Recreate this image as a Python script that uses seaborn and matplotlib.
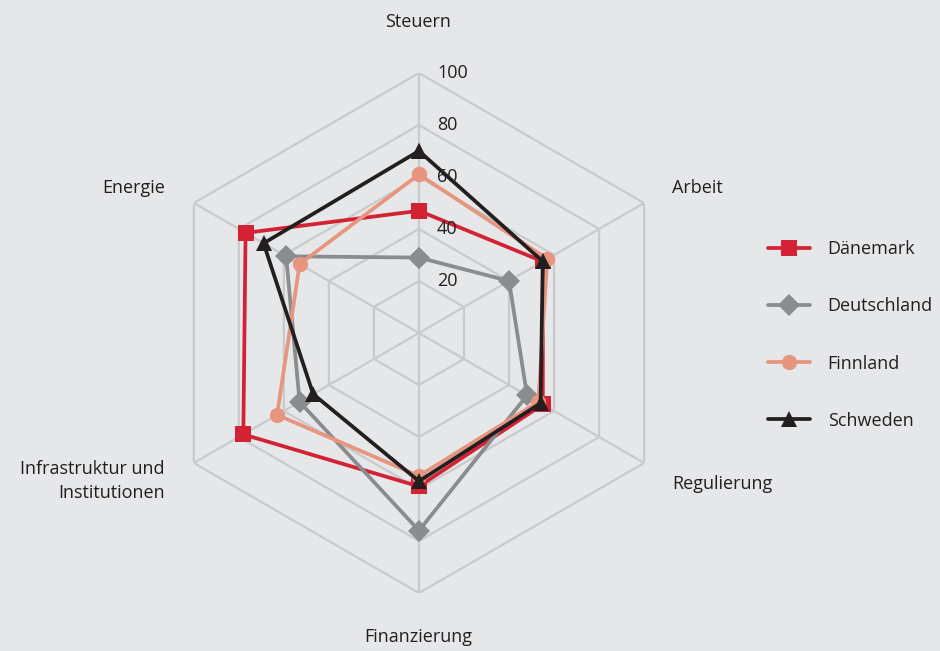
import numpy as np
import pandas as pd
import matplotlib
matplotlib.use("Agg")
import matplotlib.pyplot as plt
import matplotlib.transforms as mtransforms
import seaborn as sns

categories = ["Steuern", "Arbeit", "Regulierung", "Finanzierung",
              "Infrastruktur und\nInstitutionen", "Energie"]
countries = ["Dänemark", "Deutschland", "Finnland", "Schweden"]

daenemark = [47, 55, 55, 59, 78, 77]
deutschland = [29, 40, 48, 76, 53, 59]
finnland = [61, 57, 53, 55, 63, 53]
schweden = [70, 55, 54, 57, 47, 69]

ring_values = [20, 40, 60, 80, 100]

colors = {"Dänemark": "#d42235", "Deutschland": "#8b8c8e",
          "Finnland": "#e8957f", "Schweden": "#231f20"}
markers = {"Dänemark": "s", "Deutschland": "D", "Finnland": "o", "Schweden": "^"}

BG = "#e6e7e9"
GRID = "#c9cacc"
TXT = "#231f20"
FS = 13

# ---- long table, each polygon closed by repeating the first point ----
n = len(categories)
angles = np.linspace(0, 2 * np.pi, n, endpoint=False)
rows = []
for name, vals in zip(countries, [daenemark, deutschland, finnland, schweden]):
    for i in list(range(n)) + [0]:
        rows.append({"land": name, "theta": angles[i], "wert": vals[i]})
df = pd.DataFrame(rows)

sns.set_style("white")
plt.rcParams["font.family"] = ["Open Sans", "DejaVu Sans"]

fig = plt.figure(figsize=(9.4, 6.51), dpi=100, facecolor=BG)
ax = fig.add_axes([0.1691, 0.0891, 0.5532, 0.7988], projection="polar")
ax.set_theta_offset(np.pi / 2)
ax.set_theta_direction(-1)
ax.set_ylim(0, 100)
ax.patch.set_visible(False)
ax.spines["polar"].set_visible(False)
ax.grid(False)
ax.set_xticks([])
ax.set_yticks([])

# hexagonal grid
for r in ring_values:
    th = np.append(angles, angles[0])
    ax.plot(th, [r] * len(th), color=GRID, lw=1.6, zorder=1)
for a in angles:
    ax.plot([a, a], [0, 100], color=GRID, lw=1.6, zorder=1)

sns.lineplot(data=df, x="theta", y="wert", hue="land", style="land",
             hue_order=countries, style_order=countries,
             palette=colors, markers=markers, dashes=False, sort=False,
             estimator=None, lw=2.7, markersize=11, markeredgewidth=0,
             ax=ax, zorder=3)

# radial tick labels
off = mtransforms.offset_copy(ax.transData, fig=fig, x=18, y=0, units="dots")
for r in ring_values:
    ax.text(0, r, str(r), transform=off, ha="left", va="center",
            fontsize=FS, color=TXT, zorder=4)

# category labels (figure pixel positions)
W, H = 940, 651
lab_pos = {
    "Steuern": (418, 22, "center"),
    "Arbeit": (672, 188, "left"),
    "Regulierung": (672, 484, "left"),
    "Finanzierung": (418, 637, "center"),
    "Infrastruktur und\nInstitutionen": (165, 481, "right"),
    "Energie": (165, 188, "right"),
}
for cat in categories:
    x, y, ha = lab_pos[cat]
    fig.text(x / W, 1 - y / H, cat, ha=ha, va="center", fontsize=FS,
             color=TXT, linespacing=1.5, multialignment="right")

handles, labels = ax.get_legend_handles_labels()
ax.legend(handles, labels, loc="center left",
          bbox_to_anchor=(768 / W, 1 - 335 / H), bbox_transform=fig.transFigure,
          frameon=False, fontsize=FS, handlelength=2.3, handletextpad=1.0,
          labelspacing=2.17, labelcolor=TXT, borderaxespad=0, borderpad=0)

fig.savefig("out.png", dpi=100, facecolor=BG)
